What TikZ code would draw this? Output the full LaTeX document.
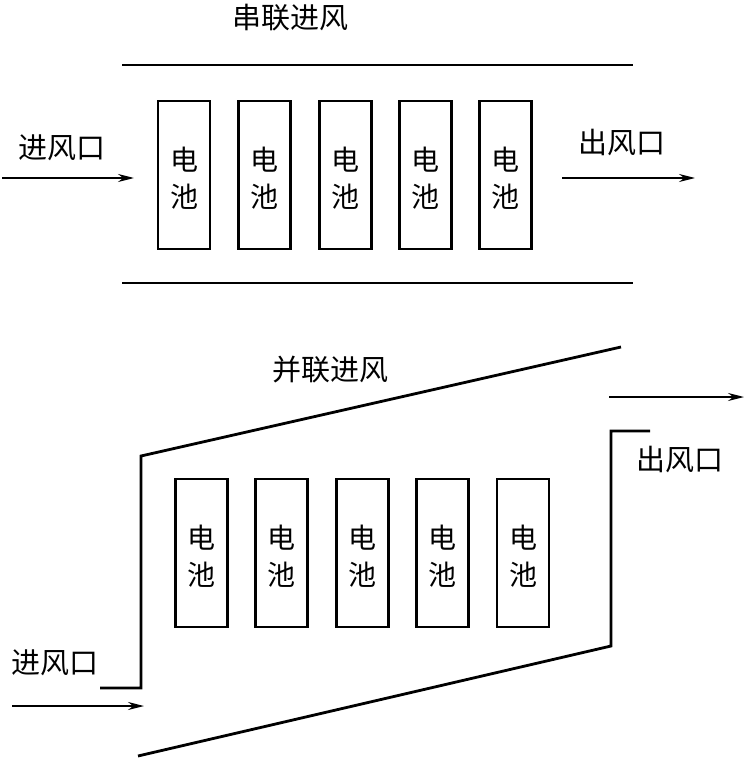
\documentclass[tikz,border=0pt]{standalone}
\usepackage{fontspec}
\newfontfamily\cjk{Noto Sans CJK SC}
\usetikzlibrary{arrows.meta}
\begin{document}
\begin{tikzpicture}[x=1pt,y=-1pt,
  wall/.style={line width=2.8pt},
  cell/.style={draw,line width=2.6pt,minimum width=52pt,minimum height=148pt,inner sep=0pt},
  flow/.style={line width=1.5pt,-{Stealth[length=16pt,width=8pt]}},
  lbl/.style={font=\cjk\fontsize{29}{32}\selectfont,inner sep=0pt},
  ctext/.style={font=\cjk\fontsize{28}{37}\selectfont,align=center,inner sep=0pt}]
\useasboundingbox (0,0) rectangle (747,770);
% series
\node[lbl] (t1) at (290,18) {串联进风};
\coordinate (s1a) at (122,65); \coordinate (s1b) at (633,65);
\coordinate (s2a) at (122,283); \coordinate (s2b) at (633,283);
\draw[wall] (s1a) -- (s1b);
\draw[wall] (s2a) -- (s2b);
\foreach \x [count=\i] in {184,264.5,345.5,425.5,505.5}{
  \node[cell] (a\i) at (\x,175) {};
  \node[ctext] (at\i) at (\x,178) {电\\池};
}
\node[lbl] (in1) at (62,148) {进风口};
\coordinate (i1a) at (2,178); \coordinate (i1b) at (134,178);
\draw[flow] (i1a) -- (i1b);
\node[lbl] (out1) at (622,143) {出风口};
\coordinate (o1a) at (562,178); \coordinate (o1b) at (695,178);
\draw[flow] (o1a) -- (o1b);
% parallel
\node[lbl] (t2) at (330,370) {并联进风};
\coordinate (p1) at (100,688); \coordinate (p2) at (141,688);
\coordinate (p3) at (141,456); \coordinate (p4) at (621,347);
\draw[wall] (p1) -- (p2) -- (p3) -- (p4);
\coordinate (q1) at (138,756); \coordinate (q2) at (611,646);
\coordinate (q3) at (611,431); \coordinate (q4) at (650,431);
\draw[wall] (q1) -- (q2) -- (q3) -- (q4);
\foreach \x [count=\i] in {201.5,281.5,362.5,442.5,523}{
  \node[cell] (b\i) at (\x,553) {};
  \node[ctext] (bt\i) at (\x,556) {电\\池};
}
\node[lbl] (in2) at (55,663) {进风口};
\coordinate (i2a) at (12,706); \coordinate (i2b) at (144,706);
\draw[flow] (i2a) -- (i2b);
\node[lbl] (out2) at (680,460) {出风口};
\coordinate (o2a) at (609,397); \coordinate (o2b) at (744,397);
\draw[flow] (o2a) -- (o2b);
\end{tikzpicture}
\end{document}
